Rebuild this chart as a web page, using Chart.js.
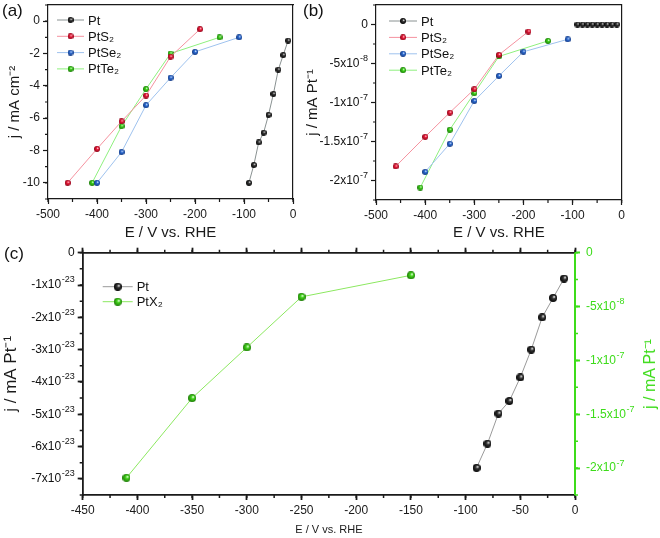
<!DOCTYPE html>
<html>
<head>
<meta charset="utf-8">
<script src="https://cdn.jsdelivr.net/npm/chart.js@4.4.1/dist/chart.umd.min.js"></script>
<style>
  html, body { margin: 0; padding: 0; background: #fff; }
  body { width: 660px; height: 538px; position: relative; overflow: hidden;
         font-family: "Liberation Sans", Arial, sans-serif; color: #111; }
  .panel { position: absolute; }
  .tag   { position: absolute; font-size: 17px; line-height: 1; }
  .rtitle { position: absolute; white-space: nowrap; font-size: 16px; line-height: 1;
            color: #3ddc1a; transform: translate(-50%, -50%) rotate(-90deg); }
</style>
</head>
<body>

<div class="panel" style="left:0;top:0;width:298px;height:246px"><canvas id="chartA"></canvas></div>
<div class="panel" style="left:298px;top:0;width:362px;height:246px"><canvas id="chartB"></canvas></div>
<div class="panel" style="left:0;top:240px;width:660px;height:298px"><canvas id="chartC"></canvas></div>

<div class="tag" style="left:2px;top:2px">(a)</div>
<div class="tag" style="left:303px;top:2px">(b)</div>
<div class="tag" style="left:4px;top:245px">(c)</div>
<div class="rtitle" style="left:650px;top:374px">j / mA Pt⁻¹</div>

<script>
/* ================================================
   DATA
   E in mV vs. RHE
================================================ */
const E_PT    = [-90, -80, -70, -60, -50, -40, -30, -20, -10];
const E_PTS2  = [-460, -400, -350, -300, -250, -190];
const E_PTSE2 = [-400, -350, -300, -250, -200, -110];
const E_PTTE2 = [-410, -350, -300, -250, -150];

// (a) geometric current density, mA cm^-2
const J_PT_AREA    = [-10, -8.9, -7.5, -6.9, -5.8, -4.5, -3.0, -2.1, -1.2];
const J_PTS2_AREA  = [-10, -7.9, -6.2, -4.6, -2.2, -0.5];
const J_PTSE2_AREA = [-10, -8.1, -5.2, -3.5, -1.9, -1.0];
const J_PTTE2_AREA = [-10, -6.5, -4.2, -2.0, -1.0];

// (b)/(c) current per Pt atom
const J_PT_MASS    = [-6.66, -5.91, -4.98, -4.59, -3.86, -3.0, -2.0, -1.4, -0.8];   // x1e-23
const J_PTS2_MASS  = [-18.2, -14.4, -11.3, -8.3, -3.9, -0.9];                         // x1e-8
const J_PTSE2_MASS = [-18.9, -15.3, -9.8, -6.6, -3.5, -1.9];                          // x1e-8
const J_PTTE2_MASS = [-20.9, -13.5, -8.8, -4.1, -2.1];                                // x1e-8

// tick labels
const AB_X_TICKS = [-500, -400, -300, -200, -100, 0];
const A_Y_TICKS  = [-10, -8, -6, -4, -2, 0];
const B_Y_TICKS  = [-20, -15, -10, -5, 0];                                          // x1e-8
const C_X_TICKS  = [-450, -400, -350, -300, -250, -200, -150, -100, -50, 0];
const C_YL_TICKS = [-7, -6, -5, -4, -3, -2, -1, 0];                                 // x1e-23
const C_YR_TICKS = [-20, -15, -10, -5, 0];                                          // x1e-8

/* ── look ── */
const FONT  = '"Liberation Sans", Arial, sans-serif';
const AXIS  = '#1a1a1a';
const GREEN = '#3ddc1a';

// small shaded ball used as point style
function ball(color, dark, d) {
  const c = document.createElement('canvas');
  c.width = c.height = d;
  const g = c.getContext('2d');
  const r = d / 2;
  const grad = g.createRadialGradient(r * 1.3, r * 0.7, r * 0.05, r, r, r);
  grad.addColorStop(0, '#ffffff');
  grad.addColorStop(0.35, color);
  grad.addColorStop(1, dark);
  g.fillStyle = grad;
  g.beginPath(); g.arc(r, r, r, 0, Math.PI * 2); g.fill();
  return c;
}

const STYLE = {
  pt:   { line: '#8a9292', ball: ball('#3a3a3a', '#000000', 6) },
  pts2: { line: '#f5929f', ball: ball('#ee1c3c', '#8a0014', 6) },
  ptse: { line: '#9ec2ee', ball: ball('#2f6fd6', '#0f3580', 6) },
  ptte: { line: '#8ef07e', ball: ball('#3ed21a', '#187a05', 6) },
  ptC:  { line: '#9a9a9a', ball: ball('#3a3a3a', '#000000', 8) },
  ptxC: { line: '#8ce860', ball: ball('#45d81c', '#1c7a05', 8) },
};

function series(label, xs, ys, st, yAxisID) {
  return {
    label,
    data: xs.map((x, i) => ({ x, y: ys[i] })),
    borderColor: st.line,
    backgroundColor: st.line,
    borderWidth: 1,
    pointStyle: st.ball,
    pointRadius: 4,
    tension: 0,
    yAxisID: yAxisID || 'y',
  };
}

/* ── "m x 10^e" split, value v in units of 10^unitExp ── */
function sciParts(v, unitExp) {
  if (Math.abs(v) < 1e-9) return ['0', ''];
  const e = Math.floor(Math.log10(Math.abs(v)) + 1e-9);
  const m = +(v / Math.pow(10, e)).toFixed(2);
  return [m + 'x10', String(e + unitExp)];
}

/* ── axis helpers ── */
// pin an axis box to an exact size and drop the label overhang padding
function pin(size) {
  return s => {
    if (s.isHorizontal()) s.height = size; else s.width = size;
    s.paddingLeft = s.paddingRight = s.paddingTop = s.paddingBottom = 0;
  };
}
const fixedTicks = values => s => { s.ticks = values.map(value => ({ value })); };

function axis(o) {
  const col = o.color || AXIS;
  const ax = {
    type: 'linear', position: o.pos, min: o.min, max: o.max,
    afterFit: pin(o.size),
    border: { color: col, width: o.lw },
    grid: o.ticks
      ? { drawOnChartArea: false, tickLength: 5, color: col, tickWidth: o.lw }
      : { display: false },
    ticks: { display: false },
  };
  if (o.ticks) ax.afterBuildTicks = fixedTicks(o.ticks);
  if (o.labels) {
    ax.ticks = { display: true, color: col, padding: 3, maxRotation: 0,
                 font: { family: FONT, size: 12 }, callback: v => String(v) };
  }
  if (o.title) {
    ax.title = { display: true, text: o.title, color: col,
                 font: { family: FONT, size: o.titleSize }, padding: o.titlePad };
  }
  return ax;
}

/* ── plugin: short minor ticks between the major ones ── */
const minorTicks = {
  id: 'minorTicks',
  afterDraw(chart, args, opts) {
    const { ctx, chartArea: a } = chart;
    (opts.axes || []).forEach(m => {
      const s = chart.scales[m.id];
      ctx.save();
      ctx.strokeStyle = m.color || AXIS;
      ctx.lineWidth = m.lw;
      ctx.beginPath();
      for (let v = s.min; v <= s.max + 1e-9; v += m.step) {
        const p = s.getPixelForValue(v);
        if (s.position === 'bottom') { ctx.moveTo(p, a.bottom); ctx.lineTo(p, a.bottom + 3); }
        if (s.position === 'top')    { ctx.moveTo(p, a.top);    ctx.lineTo(p, a.top - 3); }
        if (s.position === 'left')   { ctx.moveTo(a.left, p);   ctx.lineTo(a.left - 3, p); }
        if (s.position === 'right')  { ctx.moveTo(a.right, p);  ctx.lineTo(a.right + 3, p); }
      }
      ctx.stroke();
      ctx.restore();
    });
  },
};

/* ── plugin: y tick labels written as m x 10 with a raised exponent ── */
const sciTicks = {
  id: 'sciTicks',
  afterDraw(chart, args, opts) {
    const { ctx, chartArea: a } = chart;
    (opts.axes || []).forEach(m => {
      const s = chart.scales[m.id];
      ctx.save();
      ctx.fillStyle = m.color || '#111';
      ctx.textBaseline = 'middle';
      s.ticks.forEach(t => {
        const y = s.getPixelForValue(t.value);
        const [base, exp] = sciParts(t.value, m.unitExp);
        ctx.font = '12px ' + FONT;
        const wb = ctx.measureText(base).width;
        ctx.font = '9px ' + FONT;
        const we = exp ? ctx.measureText(exp).width + 0.5 : 0;
        let x = s.position === 'left' ? a.left - 8 - wb - we : a.right + 11;
        ctx.font = '12px ' + FONT;
        ctx.fillText(base, x, y);
        if (exp) {
          ctx.font = '9px ' + FONT;
          ctx.fillText(exp, x + wb + 0.5, y - 5);
        }
      });
      ctx.restore();
    });
  },
};

/* ── plugin: legend drawn inside the plot box (line + ball + label) ── */
const insideLegend = {
  id: 'insideLegend',
  afterDraw(chart, args, o) {
    const { ctx, chartArea: a } = chart;
    ctx.save();
    ctx.font = o.size + 'px ' + FONT;
    ctx.textBaseline = 'middle';
    chart.data.datasets.forEach((ds, i) => {
      const x = a.left + o.x;
      const y = a.top + o.y + i * o.gap;
      ctx.strokeStyle = ds.borderColor;
      ctx.lineWidth = 1;
      ctx.beginPath(); ctx.moveTo(x, y); ctx.lineTo(x + o.len, y); ctx.stroke();
      const img = ds.pointStyle;
      ctx.drawImage(img, x + o.len / 2 - img.width / 2, y - img.height / 2);
      ctx.fillStyle = '#111';
      ctx.fillText(ds.label, x + o.len + 4, y + 1);
    });
    ctx.restore();
  },
};

const base = {
  responsive: true,
  maintainAspectRatio: false,
  animation: false,
  events: [],
  layout: { padding: 0 },
};

/* ────────────────────────────────────────────
   (a) current density vs potential
──────────────────────────────────────────── */
new Chart(document.getElementById('chartA'), {
  type: 'line',
  data: { datasets: [
    series('Pt',    E_PT,    J_PT_AREA,    STYLE.pt),
    series('PtS₂',  E_PTS2,  J_PTS2_AREA,  STYLE.pts2),
    series('PtSe₂', E_PTSE2, J_PTSE2_AREA, STYLE.ptse),
    series('PtTe₂', E_PTTE2, J_PTTE2_AREA, STYLE.ptte),
  ] },
  options: { ...base,
    scales: {
      x:  axis({ pos: 'bottom', min: -500, max: 0, size: 47, lw: 1.2, ticks: AB_X_TICKS, labels: true,
                 title: 'E / V vs. RHE', titleSize: 15, titlePad: { top: 0, bottom: 4 } }),
      xT: axis({ pos: 'top', min: -500, max: 0, size: 2, lw: 1.2 }),
      y:  axis({ pos: 'left', min: -11, max: 1, size: 48, lw: 1.2, ticks: A_Y_TICKS, labels: true,
                 title: 'j / mA cm⁻²', titleSize: 15, titlePad: { top: 6, bottom: 0 } }),
      yR: axis({ pos: 'right', min: -11, max: 1, size: 5, lw: 1.2 }),
    },
    plugins: {
      legend: { display: false }, tooltip: { enabled: false },
      minorTicks: { axes: [{ id: 'x', step: 50, lw: 1.2 }, { id: 'y', step: 1, lw: 1.2 }] },
      insideLegend: { x: 9, y: 15, gap: 16.3, len: 27, size: 13 },
    },
  },
  plugins: [minorTicks, insideLegend],
});

/* ────────────────────────────────────────────
   (b) current per Pt vs potential
──────────────────────────────────────────── */
new Chart(document.getElementById('chartB'), {
  type: 'line',
  data: { datasets: [
    series('Pt',    E_PT,    J_PT_MASS.map(v => v * 1e-15), STYLE.pt),   // 1e-23 -> 1e-8 units
    series('PtS₂',  E_PTS2,  J_PTS2_MASS,  STYLE.pts2),
    series('PtSe₂', E_PTSE2, J_PTSE2_MASS, STYLE.ptse),
    series('PtTe₂', E_PTTE2, J_PTTE2_MASS, STYLE.ptte),
  ] },
  options: { ...base,
    scales: {
      x:  axis({ pos: 'bottom', min: -500, max: 0, size: 46, lw: 1.2, ticks: AB_X_TICKS, labels: true,
                 title: 'E / V vs. RHE', titleSize: 15, titlePad: { top: 0, bottom: 4 } }),
      xT: axis({ pos: 'top', min: -500, max: 0, size: 3, lw: 1.2 }),
      y:  axis({ pos: 'left', min: -22.5, max: 2.5, size: 78, lw: 1.2, ticks: B_Y_TICKS,
                 title: 'j / mA Pt⁻¹', titleSize: 15, titlePad: { top: 6, bottom: 0 } }),
      yR: axis({ pos: 'right', min: -22.5, max: 2.5, size: 38.3, lw: 1.2 }),
    },
    plugins: {
      legend: { display: false }, tooltip: { enabled: false },
      minorTicks: { axes: [{ id: 'x', step: 50, lw: 1.2 }, { id: 'y', step: 2.5, lw: 1.2 }] },
      sciTicks: { axes: [{ id: 'y', unitExp: -8 }] },
      insideLegend: { x: 13, y: 16, gap: 16.4, len: 28, size: 13 },
    },
  },
  plugins: [minorTicks, sciTicks, insideLegend],
});

/* ────────────────────────────────────────────
   (c) Pt (left axis) vs PtX2 (right, green axis)
──────────────────────────────────────────── */
new Chart(document.getElementById('chartC'), {
  type: 'line',
  data: { datasets: [
    series('Pt',   E_PT,    J_PT_MASS,    STYLE.ptC, 'y'),
    series('PtX₂', E_PTTE2, J_PTTE2_MASS, STYLE.ptxC, 'yR'),
  ] },
  options: { ...base,
    scales: {
      x:  axis({ pos: 'bottom', min: -450, max: 0, size: 43, lw: 1.8, ticks: C_X_TICKS, labels: true,
                 title: 'E / V vs. RHE', titleSize: 11, titlePad: { top: 0, bottom: 1.4 } }),
      xT: axis({ pos: 'top', min: -450, max: 0, size: 12.7, lw: 1.8, ticks: C_X_TICKS }),
      y:  axis({ pos: 'left', min: -7.5, max: 0, size: 82.7, lw: 1.8, ticks: C_YL_TICKS,
                 title: 'j / mA Pt⁻¹', titleSize: 17, titlePad: { top: 1, bottom: 0 } }),
      yR: axis({ pos: 'right', min: -22.5, max: 0, size: 85, lw: 2, color: GREEN, ticks: C_YR_TICKS }),
    },
    plugins: {
      legend: { display: false }, tooltip: { enabled: false },
      minorTicks: { axes: [
        { id: 'x', step: 25, lw: 1.5 }, { id: 'xT', step: 25, lw: 1.5 },
        { id: 'y', step: 0.5, lw: 1.5 }, { id: 'yR', step: 2.5, lw: 1.5, color: GREEN },
      ] },
      sciTicks: { axes: [{ id: 'y', unitExp: -23 }, { id: 'yR', unitExp: -8, color: GREEN }] },
      insideLegend: { x: 20, y: 34, gap: 15, len: 30, size: 13 },
    },
  },
  plugins: [minorTicks, sciTicks, insideLegend],
});
</script>
</body>
</html>
